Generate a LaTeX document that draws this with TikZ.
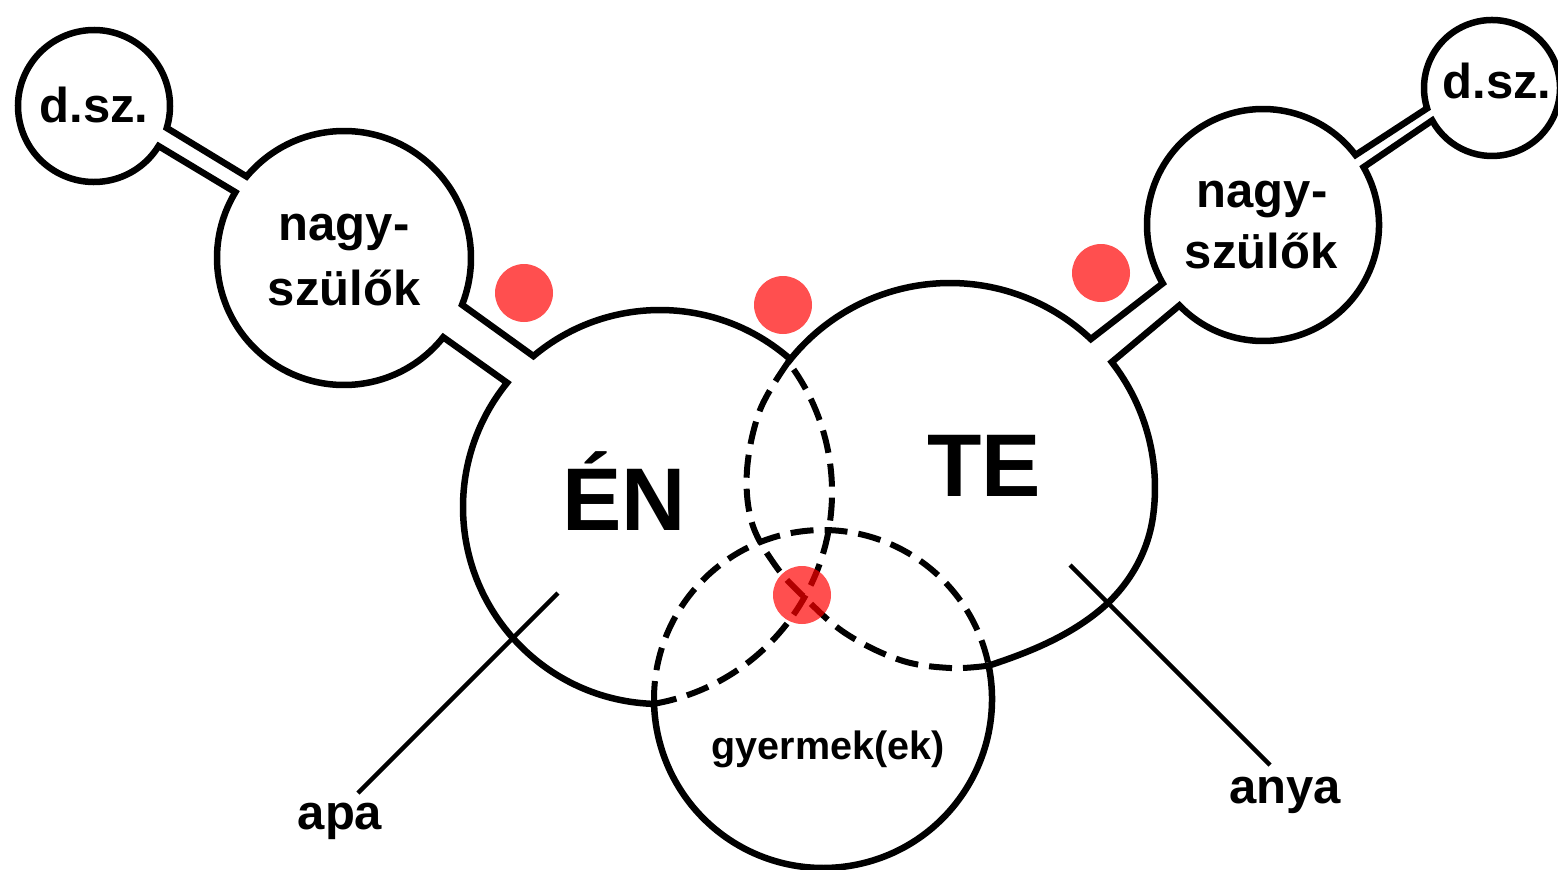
\documentclass[tikz,border=0pt]{standalone}
\usepackage{fontspec}
\setmainfont{Liberation Sans}
\usetikzlibrary{calc}
\definecolor{dotred}{RGB}{255,0,0}
\begin{document}
\begin{tikzpicture}[x=1pt,y=1pt,
  outline/.style={line width=6.5pt, line cap=round},
  hidden/.style={line width=6pt, dash pattern=on 23pt off 11pt},
  pointer/.style={line width=4.5pt},
  reddot/.style={circle, fill=dotred, fill opacity=0.69, draw=none, minimum size=58pt, inner sep=0pt},
  lbl/.style={inner sep=0pt, anchor=base, font=\fontsize{49}{58}\selectfont\bfseries},
  big/.style={inner sep=0pt, anchor=base, font=\fontsize{89}{100}\selectfont\bfseries},
  small/.style={inner sep=0pt, anchor=base, font=\fontsize{39.5}{46}\selectfont\bfseries}]
\useasboundingbox (0,0) rectangle (1558,-870);
\fill[white] (0,0) rectangle (1558,-870);
\clip (0,0) rectangle (1558,-870);

\coordinate (dsl) at (94,-106);
\coordinate (nsl) at (344,-258);
\coordinate (en) at (660,-507);
\coordinate (te) at (950,-488);
\coordinate (gy) at (823,-699);
\coordinate (nsr) at (1263,-225);
\coordinate (dsr) at (1492,-88);
\coordinate (enh) at (617,-492);

% left outline: from G1 round the ÉN circle, grandparents, d.sz. back to the top crossing
\draw[outline] ($(en)+(-91.5:197)$) arc[start angle=-91.5, end angle=-219.1, radius=197]
  -- ($(nsl)+(-38.6:127)$) arc[start angle=-38.6, end angle=-211.2, radius=127]
  -- ($(dsl)+(-31.8:76)$) arc[start angle=-31.8, end angle=-376.8, radius=76]
  -- ($(nsl)+(140.1:127)$) arc[start angle=140.1, end angle=-21.6, radius=127]
  -- ($(en)+(130:197)$) arc[start angle=130, end angle=48.6, radius=197];

% right outline: from the top crossing round TE, grandparents, d.sz., then the child circle
\draw[outline] ($(te)+(142.1:205)$) arc[start angle=142.1, end angle=46.6, radius=205]
  -- ($(nsr)+(210.2:116)$) arc[start angle=210.2, end angle=37.1, radius=116]
  -- ($(dsr)+(197.4:68)$) arc[start angle=197.4, end angle=-151.5, radius=68]
  -- ($(nsr)+(29.9:116)$) arc[start angle=29.9, end angle=-136.1, radius=116]
  -- ($(te)+(37.9:205)$) arc[start angle=37.9, end angle=-8, radius=205]
  .. controls (1147.9,-553.1) and (1128.5,-586.3) .. (1100,-610)
  .. controls (1067.9,-636.7) and (1028.3,-652.7) .. ($(gy)+(11.4:169)$)
  arc[start angle=11.4, end angle=-178.3, radius=169];

% hidden (dashed) arcs
\draw[hidden] ($(enh)+(-80.1:215)$) arc[start angle=-80.1, end angle=37.2, radius=215];
\draw[hidden] plot[smooth, tension=0.6] coordinates {(788.2,-362.1) (760,-410) (747,-470) (752,-523) (775,-565) (802,-595) (845,-633) (900,-660) (950,-668) (988.7,-665.6)};
\draw[hidden] ($(gy)+(181.7:169)$) arc[start angle=181.7, end angle=11.4, radius=169];

% pointer lines
\coordinate (apa-in) at (558,-593);
\coordinate (apa-out) at (358,-793);
\coordinate (anya-in) at (1070,-565);
\coordinate (anya-out) at (1270,-765);
\draw[pointer] (apa-in) -- (apa-out);
\draw[pointer] (anya-in) -- (anya-out);

% labels
\node[lbl] (dsl-t) at (94,-122) {d.sz.};
\node[lbl] (dsr-t) at (1497,-98) {d.sz.};
\node[lbl] (nsl-t1) at (344,-240) {nagy-};
\node[lbl] (nsl-t2) at (344,-305) {szülők};
\node[lbl] (nsr-t1) at (1262,-207) {nagy-};
\node[lbl] (nsr-t2) at (1261,-268) {szülők};
\node[big] (en-t) at (624,-530) {ÉN};
\node[big] (te-t) at (984,-496) {TE};
\node[small] (gy-t) at (828,-759) {gyermek(ek)};
\node[lbl] (apa) at (340,-829) {apa};
\node[lbl] (anya) at (1285,-803) {anya};

% red dots
\node[reddot] (dot1) at (524,-293) {};
\node[reddot] (dot2) at (783,-305) {};
\node[reddot] (dot3) at (1101,-273) {};
\node[reddot] (dot4) at (802,-595) {};
\end{tikzpicture}
\end{document}
